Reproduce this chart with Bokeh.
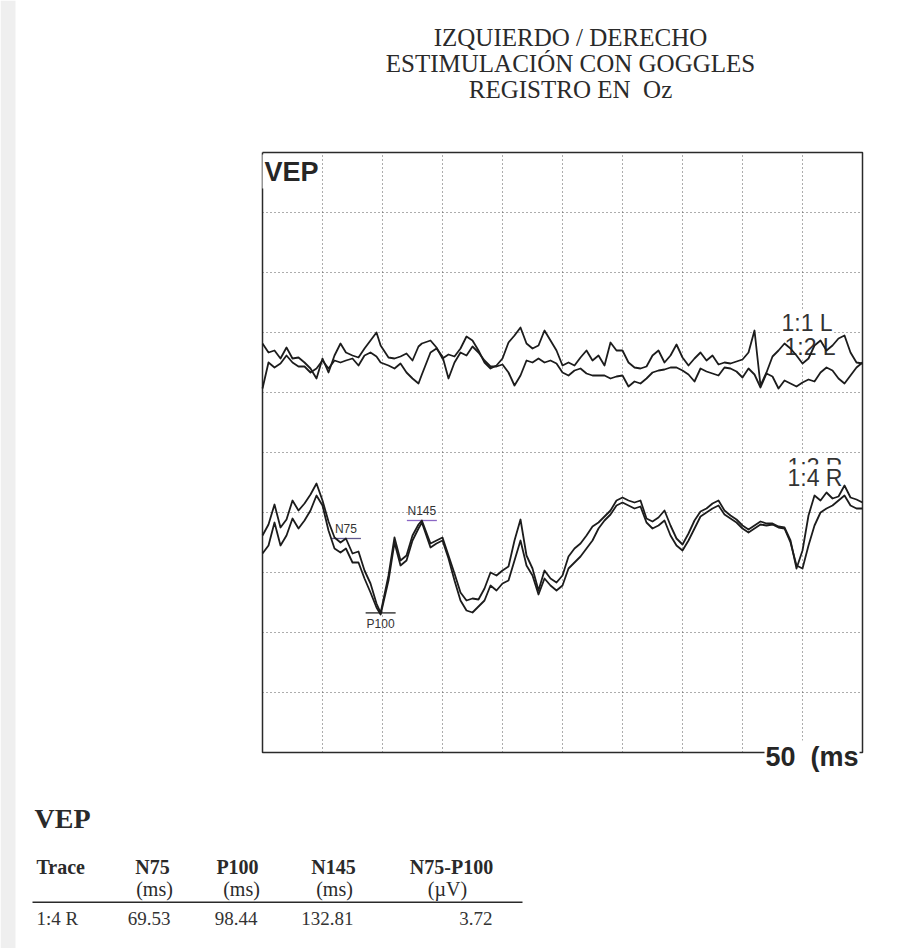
from bokeh.core.properties import value
from bokeh.embed import file_html
from bokeh.models import BoxAnnotation, Label, Range1d
from bokeh.plotting import figure
from bokeh.resources import INLINE

# ---------------------------------------------------------------- data ----
# sampling instants (ms); the three peak latencies are sampled exactly
time_ms = [0, 5, 10, 15, 20, 25, 30, 35, 40, 45, 50, 55, 60, 65, 69.53,
           75, 80, 85, 90, 95, 98.44, 105, 110, 115, 120, 125, 130, 132.81,
           140, 145, 150, 155, 160, 165, 170, 175, 180, 185, 190, 195, 200,
           205, 210, 215, 220, 225, 230, 235, 240, 245, 250, 255, 260, 265,
           270, 275, 280, 285, 290, 295, 300, 305, 310, 315, 320, 325, 330,
           335, 340, 345, 350, 355, 360, 365, 370, 375, 380, 385, 390, 395,
           400, 405, 410, 415, 420, 425, 430, 435, 440, 445, 450, 455, 460,
           465, 470, 475, 480, 485, 490, 495, 500]

trace_names = ["1:1 L", "1:2 L", "1:3 R", "1:4 R"]

# amplitudes in µV, relative to each channel's baseline
trace_1_1_L = [0.95, 0.50, 0.60, 0.20, 0.75, 0.20, 0.25, 0.00, -0.30, -0.80,
               0.20, -0.50, 0.35, 0.95, 0.50, 0.35, 0.25, 0.70, 1.10, 1.50,
               0.85, 0.25, 0.20, 0.30, 0.45, 0.10, 0.80, 0.95, 1.10, 0.75,
               0.20, 0.40, 0.30, 0.70, 1.30, 1.10, 0.60, 0.00, -0.30, -0.15,
               0.20, 1.00, 1.35, 1.75, 0.95, 0.70, 0.85, 1.60, 1.10, 0.60,
               -0.15, 0.00, -0.15, 0.25, 0.60, 0.10, 0.35, -0.15, 1.00, 0.60,
               0.60, 0.00, -0.25, -0.30, -0.20, 0.35, 0.60, 0.00, 0.35, 0.90,
               0.25, -0.15, 0.20, 0.50, 0.10, 0.35, -0.10, 0.00, -0.05, 0.05,
               0.15, 0.50, 1.60, -1.15, -0.50, 0.30, 0.60, 0.95, 0.70, 0.35,
               -0.05, 0.20, 0.85, 1.10, 0.60, 0.85, 1.20, 1.35, 0.50, 0.00,
               -0.05]

trace_1_2_L = [-1.30, 0.00, -0.25, -0.05, 0.35, 0.00, -0.20, -0.20, -0.50, -0.30,
               0.10, -0.30, 0.10, 0.00, 0.10, 0.20, -0.15, 0.35, 0.50, 0.30,
               0.00, -0.15, -0.30, -0.05, -0.50, -0.80, -1.05, -0.60, 0.50, 0.70,
               0.30, -0.80, 0.00, 0.50, 0.35, 0.80, 0.50, 0.10, -0.20, -0.20,
               -0.10, -0.50, -1.15, -0.65, 0.10, 0.00, 0.20, 0.00, 0.10, -0.05,
               -0.50, -0.65, -0.40, -0.30, -0.55, -0.65, -0.65, -0.65, -0.80, -0.70,
               -0.65, -1.20, -0.95, -1.05, -0.80, -0.50, -0.40, -0.35, -0.25, -0.25,
               -0.40, -0.60, -0.95, -0.30, -0.45, -0.55, -0.65, -0.25, -0.30, -0.45,
               -0.75, -0.30, -0.60, -1.25, -0.55, -0.70, -1.30, -0.90, -1.05, -1.20,
               -1.00, -0.85, -0.95, -0.50, -0.25, -0.40, -0.80, -1.05, -0.65, -0.25,
               0.00]

trace_1_3_R = [-0.55, -0.15, 1.00, -0.15, 0.35, 1.20, 0.70, 1.10, 1.60, 2.35,
               1.85, 0.60, -0.30, -0.50, -0.30, -1.00, -1.00, -1.80, -2.50, -3.25,
               -3.60, -1.90, 0.00, -1.15, -0.90, 0.10, 0.70, 1.00, -0.25, -0.05,
               0.10, -0.80, -1.90, -2.90, -3.40, -3.50, -3.20, -2.90, -2.15, -2.40,
               -2.05, -1.90, -0.90, 0.10, -1.15, -1.65, -2.60, -1.80, -2.15, -2.40,
               -2.15, -1.30, -1.00, -0.70, -0.30, 0.10, 0.70, 1.10, 1.40, 1.85,
               2.00, 1.85, 1.70, 1.80, 1.00, 0.70, 0.85, 1.10, 0.35, -0.15,
               -0.40, 0.10, 0.70, 1.30, 1.50, 1.70, 1.85, 1.40, 1.20, 1.00,
               0.70, 0.50, 0.70, 0.90, 0.85, 0.90, 0.75, 0.70, 0.00, -1.15,
               -1.30, -0.15, 0.85, 1.50, 1.70, 1.85, 2.10, 2.35, 1.85, 1.70,
               1.70]

trace_1_4_R = [0.35, 0.90, 1.90, 0.75, 1.15, 2.10, 1.60, 1.95, 2.40, 2.95,
               2.10, 1.05, 0.25, 0.00, 0.20, -0.55, -0.45, -1.40, -2.05, -3.05,
               -3.52, -1.65, 0.25, -0.90, -0.65, 0.35, 0.90, 1.10, -0.05, 0.10,
               0.25, -0.65, -1.55, -2.50, -2.90, -2.80, -2.85, -2.30, -1.50, -1.65,
               -1.40, -1.20, 0.10, 1.15, -0.65, -1.30, -2.40, -1.40, -1.80, -2.00,
               -1.65, -0.70, -0.30, -0.05, 0.35, 0.80, 1.00, 1.30, 1.60, 2.10,
               2.25, 2.10, 2.00, 2.10, 1.20, 1.05, 1.25, 1.60, 0.85, 0.20,
               -0.10, 0.45, 1.10, 1.55, 1.70, 1.95, 2.10, 1.60, 1.35, 1.15,
               0.85, 0.65, 0.85, 1.05, 0.95, 0.95, 0.80, 0.75, 0.10, -1.30,
               -0.40, 1.35, 2.35, 2.10, 2.50, 2.20, 2.30, 2.85, 2.25, 2.15,
               2.00]

peak_names = ["N75", "P100", "N145"]
peak_latency_ms = [69.53, 98.44, 132.81]
n75_p100_uv = 3.72
table_trace = "1:4 R"

title_lines = ["IZQUIERDO / DERECHO", "ESTIMULACIÓN CON GOGGLES", "REGISTRO EN\u00a0 Oz"]
table_headers = ["Trace", "N75", "P100", "N145", "N75-P100"]
table_units = ["", "(ms)", "(ms)", "(ms)", "(µV)"]

# ------------------------------------------------------------- layout -----
PAGE_W, PAGE_H = 899, 948
F_LEFT, F_RIGHT, F_TOP, F_BOTTOM = 262, 862, 152, 752   # chart box on the page
SWEEP_MS = 500.0
UV_PER_DIV = 3.0
DIVS = 10
HALF_SPAN = UV_PER_DIV * DIVS / 2
MS_PER_PX = SWEEP_MS / (F_RIGHT - F_LEFT)
UV_PER_PX = UV_PER_DIV * DIVS / (F_BOTTOM - F_TOP)
MID_Y = (F_TOP + F_BOTTOM) / 2


def x_at(px):
    """data x of a page pixel column"""
    return (px - F_LEFT) * MS_PER_PX


def y_at(py):
    """data y of a page pixel row"""
    return (MID_Y - py) * UV_PER_PX


SANS = "Liberation Sans"
SERIF = "Liberation Serif"
INK = "#1c1c1c"
TEXT = "#2a2a2a"

# channel stacking: left-eye pair above, right-eye pair below
channel_offset = {"1:1 L": 4.5, "1:2 L": 4.5, "1:3 R": -4.5, "1:4 R": -4.5}
traces = {"1:1 L": trace_1_1_L, "1:2 L": trace_1_2_L,
          "1:3 R": trace_1_3_R, "1:4 R": trace_1_4_R}

# the whole sheet is one plotting frame; the sweep box lives inside it
p = figure(width=PAGE_W, height=PAGE_H, output_backend="svg",
           toolbar_location=None, x_axis_type=None, y_axis_type=None,
           x_range=Range1d(x_at(0), x_at(PAGE_W)),
           y_range=Range1d(y_at(PAGE_H), y_at(0)),
           min_border=0)
p.background_fill_color = "white"
p.border_fill_color = "white"
p.outline_line_color = None
p.grid.visible = False

# faint paper edge at the left of the sheet
p.add_layout(BoxAnnotation(left=x_at(0), right=x_at(15), top=y_at(0),
                           bottom=y_at(PAGE_H), fill_color="#efefef",
                           fill_alpha=1, line_color=None, level="underlay"))

# dotted division grid: 50 ms x 3 µV
x_div = [SWEEP_MS / DIVS * i for i in range(1, DIVS)]
y_div = [-HALF_SPAN + UV_PER_DIV * i for i in range(1, DIVS)]
p.multi_line(xs=[[x, x] for x in x_div] + [[0, SWEEP_MS] for _ in y_div],
             ys=[[-HALF_SPAN, HALF_SPAN] for _ in x_div] + [[y, y] for y in y_div],
             line_color="#5a5a5a", line_dash="1 3", line_width=1)

# sweep box
p.line([0, SWEEP_MS, SWEEP_MS, 0, 0],
       [HALF_SPAN, HALF_SPAN, -HALF_SPAN, -HALF_SPAN, HALF_SPAN],
       line_color="#2a2a2a", line_width=1.5)

# channel labels sit under the traces
label_pos = {"1:1 L": (781, 322), "1:2 L": (784, 346),
             "1:3 R": (787, 466), "1:4 R": (787, 477)}
for name in trace_names:
    lx, ly = label_pos[name]
    p.text(x=[x_at(lx)], y=[y_at(ly)], text=[name], text_font=value(SANS),
           text_font_size="23px", text_color="#333333",
           text_baseline="middle", text_align="left",
           background_fill_color="white")

# peak cursors on the marked trace
marked = traces[table_trace]
marked_off = channel_offset[table_trace]
cursor_colors = ["#5f5890", "#222222", "#8a66c4"]
for name, lat, col in zip(peak_names, peak_latency_ms, cursor_colors):
    yv = marked[time_ms.index(lat)] + marked_off
    p.segment(x0=[lat - 12.5], x1=[lat + 12.5], y0=[yv], y1=[yv],
              line_color=col, line_width=1.3)
    below = name.startswith("P")
    p.text(x=[lat], y=[yv], text=[name], text_font=value(SANS),
           text_font_size="12px", text_color="#333333", text_align="center",
           text_baseline="top" if below else "bottom",
           y_offset=4 if below else -3)

for name in trace_names:
    off = channel_offset[name]
    p.line(time_ms, [v + off for v in traces[name]],
           line_color=INK, line_width=1.8, line_join="round")

# caption and scale note, painted over the corners of the box
p.add_layout(Label(x=x_at(F_LEFT), y=y_at(154), text="VEP", text_font=SANS,
                   text_font_style="bold", text_font_size="27px",
                   text_color="#262626", text_baseline="top",
                   text_align="left", background_fill_color="white",
                   padding=2))
p.add_layout(Label(x=x_at(764), y=y_at(756), text="50\u00a0 (ms", text_font=SANS,
                   text_font_style="bold", text_font_size="27px",
                   text_color="#262626", text_baseline="alphabetic",
                   text_align="left", background_fill_color="white",
                   padding=1))

# page heading
for line, py in zip(title_lines, (37, 63, 89)):
    p.add_layout(Label(x=x_at(570), y=y_at(py), text=line, text_font=SERIF,
                       text_font_size="25px", text_color=TEXT,
                       text_align="center", text_baseline="middle"))

# results table
p.add_layout(Label(x=x_at(34), y=y_at(818), text="VEP", text_font=SERIF,
                   text_font_style="bold", text_font_size="28px",
                   text_color=TEXT, text_align="left",
                   text_baseline="middle"))
head_x = [36, 152, 237, 333, 451]
unit_x = [36, 154, 241, 334, 447]
for i, (h, u) in enumerate(zip(table_headers, table_units)):
    p.add_layout(Label(x=x_at(head_x[i]), y=y_at(866), text=h, text_font=SERIF,
                       text_font_style="bold", text_font_size="20px",
                       text_color=TEXT, text_align="left" if i == 0 else "center",
                       text_baseline="middle"))
    if u:
        p.add_layout(Label(x=x_at(unit_x[i]), y=y_at(888), text=u,
                           text_font=SERIF, text_font_size="20px",
                           text_color=TEXT, text_align="center",
                           text_baseline="middle"))
p.add_layout(BoxAnnotation(left=x_at(32), right=x_at(522), top=y_at(901),
                           bottom=y_at(902.5), fill_color=TEXT,
                           fill_alpha=1, line_color=None))
row_vals = [table_trace] + [f"{v:.2f}" for v in peak_latency_ms] + [f"{n75_p100_uv:.2f}"]
row_x = [36, 170, 257, 353, 492]
for i, txt in enumerate(row_vals):
    p.add_layout(Label(x=x_at(row_x[i]), y=y_at(918), text=txt, text_font=SERIF,
                       text_font_size="19px", text_color="#333333",
                       text_align="left" if i == 0 else "right",
                       text_baseline="middle"))

open("out.html", "w").write(file_html(p, INLINE))
